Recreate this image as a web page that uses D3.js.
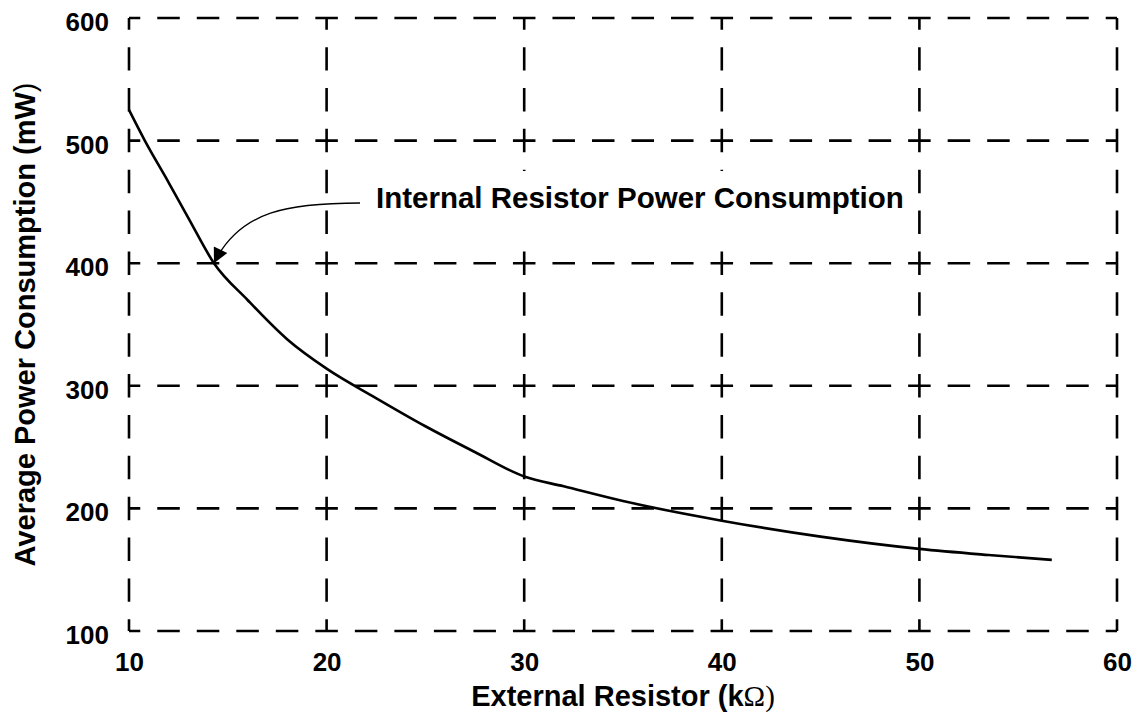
<!DOCTYPE html>
<html>
<head>
<meta charset="utf-8">
<script src="https://cdn.jsdelivr.net/npm/d3@7"></script>
<style>
  body { margin: 0; background: #fff; }
  svg { display: block; font-family: "Liberation Sans", Arial, sans-serif; font-weight: bold; }
</style>
</head>
<body>
<svg width="1137" height="713"></svg>
<script>
// the data
var resistance = [10, 10.8, 12, 13, 14.3, 16, 18, 20, 22.5, 25, 27.5, 30, 32, 35, 40, 45, 50, 53.5, 56.7];
var power      = [525, 500, 466, 437, 400, 370, 338, 314, 290, 267, 246, 226, 218, 206, 190, 177, 167, 162, 158];
var xTicks = [10, 20, 30, 40, 50, 60];
var yTicks = [100, 200, 300, 400, 500, 600];
var arrowAt = [14.3, 400];
var label = "Internal Resistor Power Consumption";

var svg = d3.select("svg");

var x = d3.scaleLinear().domain([10, 60]).range([129, 1117]);
var y = d3.scaleLinear().domain([100, 600]).range([631, 18]);

//////////// GRID ////////////

// dashed lines, a half dash centred on every crossing
var hPeriod = (x(20) - x(10)) / 5,
    vPeriod = (y(100) - y(200)) / 3;
var hDash = hPeriod - 17, vDash = vPeriod - 17.4;

var grid = svg.append("g").attr("stroke", "#000").attr("stroke-width", 2.6);

grid.selectAll(".h")
  .data(yTicks)
  .enter().append("line")
    .attr("x1", x(10)).attr("x2", x(60))
    .attr("y1", function(d) { return y(d); })
    .attr("y2", function(d) { return y(d); })
    .attr("stroke-dasharray", hDash + "," + (hPeriod - hDash))
    .attr("stroke-dashoffset", hDash / 2);

grid.selectAll(".v")
  .data(xTicks)
  .enter().append("line")
    .attr("y1", y(600)).attr("y2", y(100))
    .attr("x1", function(d) { return x(d); })
    .attr("x2", function(d) { return x(d); })
    .attr("stroke-dasharray", vDash + "," + (vPeriod - vDash))
    .attr("stroke-dashoffset", vDash / 2);

//////////// AXES ////////////

var xAxis = svg.append("g")
    .attr("transform", "translate(0," + y(100) + ")")
    .call(d3.axisBottom(x).tickValues(xTicks).tickSize(0).tickPadding(17));
var yAxis = svg.append("g")
    .attr("transform", "translate(" + x(10) + ",0)")
    .call(d3.axisLeft(y).tickValues(yTicks).tickSize(0).tickPadding(20));

[xAxis, yAxis].forEach(function(a) {
  a.select(".domain").remove();
  a.selectAll("text")
    .attr("fill", "#000")
    .style("font-family", "Liberation Sans, Arial, sans-serif")
    .style("font-weight", "bold")
    .style("font-size", "26px");
});
yAxis.selectAll("text").attr("dy", "0.48em").attr("x", -20);
xAxis.selectAll("text").attr("dy", "0.9em");

svg.append("text")
    .attr("x", (x(10) + x(60)) / 2).attr("y", 706)
    .attr("text-anchor", "middle")
    .style("font-size", "29px")
    .text("External Resistor (k")
  .append("tspan")
    .style("font-family", "Liberation Serif, serif")
    .style("font-weight", "normal")
    .text("Ω)");

svg.append("text")
    .attr("transform", "translate(35," + ((y(100) + y(600)) / 2) + ") rotate(-90)")
    .attr("text-anchor", "middle")
    .style("font-size", "29px")
    .text("Average Power Consumption (mW")
  .append("tspan")
    .style("font-weight", "normal")
    .text(")");

//////////// CURVE ////////////

var line = d3.line()
    .x(function(d) { return x(d[0]); })
    .y(function(d) { return y(d[1]); })
    .curve(d3.curveMonotoneX);

svg.append("path")
    .datum(d3.zip(resistance, power))
    .attr("fill", "none")
    .attr("stroke", "#000")
    .attr("stroke-width", 2.6)
    .attr("d", line);

//////////// ANNOTATION ////////////

// white box behind the label hides the grid
svg.append("rect")
    .attr("x", 368).attr("y", 171)
    .attr("width", 542).attr("height", 80)
    .attr("fill", "#fff");

svg.append("text")
    .attr("x", 376).attr("y", 208)
    .style("font-size", "29.5px")
    .text(label);

svg.append("defs").append("marker")
    .attr("id", "head")
    .attr("viewBox", "0 0 10 10")
    .attr("refX", 10).attr("refY", 5)
    .attr("markerUnits", "userSpaceOnUse")
    .attr("markerWidth", 21).attr("markerHeight", 15)
    .attr("orient", "auto")
  .append("path")
    .attr("d", "M0,0L10,5L0,10z")
    .attr("fill", "#000");

var tip = [x(arrowAt[0]), y(arrowAt[1])];
svg.append("path")
    .attr("fill", "none")
    .attr("stroke", "#000")
    .attr("stroke-width", 1.3)
    .attr("marker-end", "url(#head)")
    .attr("d", "M360,203C290,203 240,210 " + tip[0] + "," + tip[1]);
</script>
</body>
</html>
